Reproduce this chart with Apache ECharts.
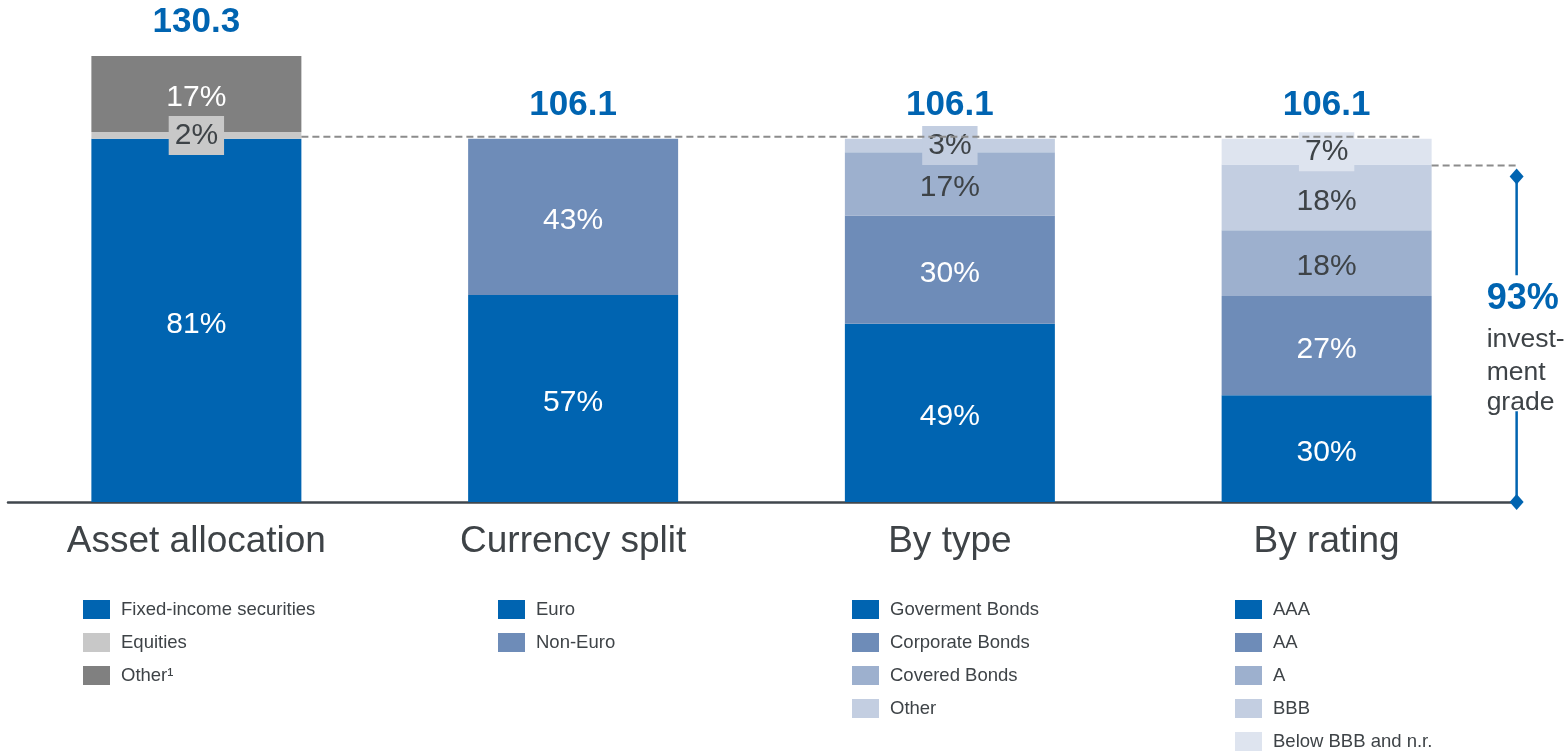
<!DOCTYPE html>
<html>
<head>
<meta charset="utf-8">
<title>Investment portfolio</title>
<script src="https://cdn.jsdelivr.net/npm/echarts@6/dist/echarts.min.js"></script>
<style>
  html, body { margin: 0; padding: 0; background: #fff; }
  #chart { width: 1567px; height: 752px; }
</style>
</head>
<body>
<div id="chart"></div>
<script>
// categories and totals (EUR bn)
var categories = ['Asset allocation', 'Currency split', 'By type', 'By rating'];
var totals = [130.3, 106.1, 106.1, 106.1];

// segments of each bar, bottom to top (values in bn, labels as printed)
var assetNames = ['Fixed-income securities', 'Equities', 'Other\u00b9'];
var assetValues = [106.1, 2.0, 22.2];
var assetLabels = ['81%', '2%', '17%'];

var currencyNames = ['Euro', 'Non-Euro'];
var currencyValues = [60.5, 45.6];
var currencyLabels = ['57%', '43%'];

var typeNames = ['Goverment Bonds', 'Corporate Bonds', 'Covered Bonds', 'Other'];
var typeValues = [52.1, 31.6, 18.5, 3.9];
var typeLabels = ['49%', '30%', '17%', '3%'];

var ratingNames = ['AAA', 'AA', 'A', 'BBB', 'Below BBB and n.r.'];
var ratingValues = [31.2, 29.0, 19.2, 19.2, 7.5];
var ratingLabels = ['30%', '27%', '18%', '18%', '7%'];

var investmentGrade = '93%';

// colours
var blue = '#0064b1';
var shades = ['#0064b1', '#6e8cb8', '#9db0ce', '#c3cee1', '#dee4ef'];
var assetColors = ['#0064b1', '#c8c8c8', '#808080'];
var darkText = '#3e4347';
var lightFill = { '#0064b1': 1, '#6e8cb8': 1, '#808080': 1 };

var barWidth = 210;
var font = '"Liberation Sans", Arial, sans-serif';

var groups = [
  { names: assetNames, values: assetValues, labels: assetLabels, colors: assetColors },
  { names: currencyNames, values: currencyValues, labels: currencyLabels, colors: shades },
  { names: typeNames, values: typeValues, labels: typeLabels, colors: shades },
  { names: ratingNames, values: ratingValues, labels: ratingLabels, colors: shades }
];

var series = [];
groups.forEach(function (g, gi) {
  g.names.forEach(function (name, k) {
    var data = categories.map(function (c, i) { return i === gi ? g.values[k] : '-'; });
    var color = g.colors[k];
    var thin = g.values[k] / totals[gi] < 0.08;
    series.push({
      name: name,
      type: 'bar',
      stack: 'total',
      barWidth: barWidth,
      z: 2,
      data: data,
      itemStyle: { color: color },
      emphasis: { disabled: true },
      label: {
        show: true,
        position: 'inside',
        offset: thin ? [0, 0] : [0, 4],
        formatter: g.labels[k],
        fontFamily: font,
        fontSize: 30,
        color: lightFill[color] ? '#fff' : darkText,
        backgroundColor: thin ? color : 'transparent',
        padding: thin ? [5, 6, 4, 6] : 0
      }
    });
  });
});

// totals above the bars
series.push({
  name: 'Total',
  type: 'scatter',
  symbolSize: 0,
  z: 5,
  data: totals,
  itemStyle: { opacity: 1 },
  emphasis: { disabled: true },
  label: {
    show: true,
    position: 'top',
    distance: 16,
    formatter: function (p) { return p.value.toFixed(1); },
    fontFamily: font,
    fontSize: 35,
    fontWeight: 'bold',
    color: blue
  }
});

// dashed guide lines and investment grade bracket
var igLevel = totals[3] - ratingValues[ratingValues.length - 1];
series.push({
  name: 'Guides',
  type: 'custom',
  z: 3,
  silent: true,
  data: [[3, 0]],
  renderItem: function (params, api) {
    var half = barWidth / 2;
    var left = api.coord([0, totals[1]]);
    var right = api.coord([3, totals[3]]);
    var ig = api.coord([3, igLevel]);
    var base = api.coord([3, 0]);
    var dash = { stroke: '#8c8c8c', lineWidth: 2, lineDash: [7, 4] };
    var bx = right[0] + half + 85;
    var top = ig[1] + 12;
    var mid = (top + base[1]) / 2;
    var diamond = function (y) {
      return { type: 'polygon', shape: { points: [[bx, y - 8], [bx + 7, y], [bx, y + 8], [bx - 7, y]] }, style: { fill: blue } };
    };
    var txt = function (t, y, size, weight, fill) {
      return { type: 'text', style: { text: t, x: bx - 30, y: y, fill: fill, fontSize: size, fontWeight: weight,
        fontFamily: font, textAlign: 'left', textVerticalAlign: 'middle' } };
    };
    return {
      type: 'group',
      children: [
        { type: 'line', shape: { x1: left[0] + half, y1: left[1] - 2, x2: right[0] + half - 9, y2: right[1] - 2 }, style: dash },
        { type: 'line', shape: { x1: ig[0] + half, y1: ig[1] + 1, x2: bx + 2, y2: ig[1] + 1 }, style: dash },
        { type: 'line', shape: { x1: bx, y1: top, x2: bx, y2: mid - 64 }, style: { stroke: blue, lineWidth: 2.5 } },
        { type: 'line', shape: { x1: bx, y1: mid + 72, x2: bx, y2: base[1] }, style: { stroke: blue, lineWidth: 2.5 } },
        diamond(top),
        diamond(base[1]),
        txt(investmentGrade, mid - 40, 36, 'bold', blue),
        txt('invest-', mid + 0, 26.5, 'normal', darkText),
        txt('ment', mid + 33, 26.5, 'normal', darkText),
        txt('grade', mid + 63, 26.5, 'normal', darkText)
      ]
    };
  }
});

function legendFor(names, left) {
  return {
    orient: 'vertical',
    left: left,
    top: 600,
    padding: 0,
    data: names,
    icon: 'rect',
    itemWidth: 27,
    itemHeight: 19,
    itemGap: 14,
    selectedMode: false,
    textStyle: { fontFamily: font, fontSize: 18.5, color: darkText, padding: [0, 0, 0, 6] }
  };
}

var myChart = echarts.init(document.getElementById('chart'));
myChart.setOption({
  animation: false,
  backgroundColor: '#fff',
  grid: { left: 8, right: 52, top: 56, bottom: 250 },
  legend: [
    legendFor(assetNames, 83),
    legendFor(currencyNames, 498),
    legendFor(typeNames, 852),
    legendFor(ratingNames, 1235)
  ],
  xAxis: {
    type: 'category',
    data: categories,
    axisLine: { lineStyle: { color: '#40474d', width: 2.5 } },
    axisTick: { show: false },
    axisLabel: { fontFamily: font, fontSize: 37, color: darkText, margin: 21 }
  },
  yAxis: {
    type: 'value',
    min: 0,
    max: 130.3,
    show: false
  },
  series: series
});
</script>
</body>
</html>
